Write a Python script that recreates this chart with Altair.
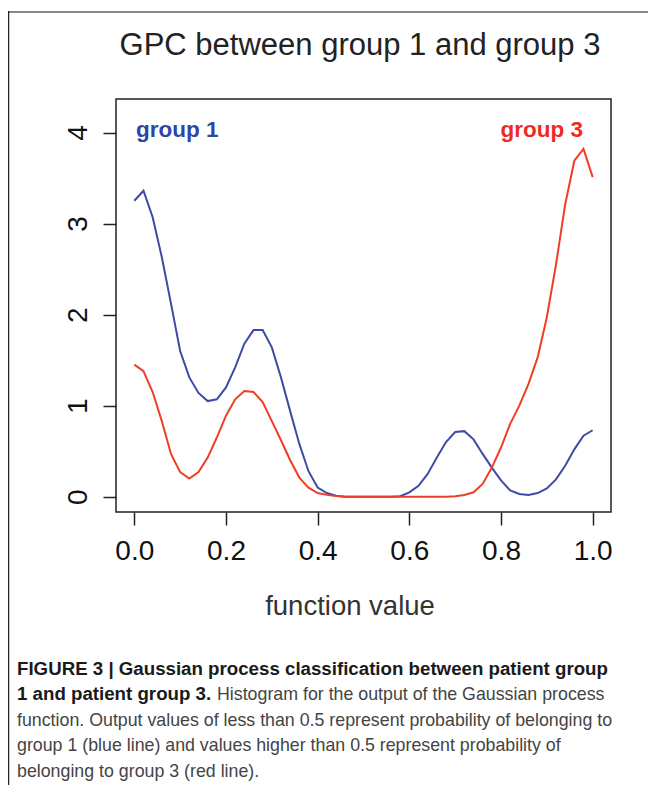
import altair as alt
import pandas as pd

# ---- data ----
x_vals = [round(i * 0.02, 2) for i in range(51)]
group1 = [3.25, 3.36, 3.07, 2.63, 2.12, 1.60, 1.31, 1.14, 1.05, 1.07,
          1.20, 1.42, 1.68, 1.83, 1.83, 1.64, 1.31, 0.94, 0.58, 0.28,
          0.10, 0.04, 0.01, 0.0, 0.0, 0.0, 0.0, 0.0, 0.0, 0.005,
          0.048, 0.12, 0.25, 0.43, 0.60, 0.71, 0.72, 0.63, 0.47, 0.32,
          0.18, 0.07, 0.03, 0.02, 0.04, 0.09, 0.19, 0.34, 0.52, 0.67, 0.73]
group3 = [1.45, 1.38, 1.15, 0.83, 0.47, 0.27, 0.20, 0.27, 0.43, 0.65,
          0.89, 1.07, 1.16, 1.15, 1.04, 0.83, 0.62, 0.40, 0.21, 0.10,
          0.04, 0.02, 0.007, 0.0, 0.0, 0.0, 0.0, 0.0, 0.0, 0.0,
          0.0, 0.0, 0.0, 0.0, 0.0, 0.004, 0.018, 0.048, 0.14, 0.32,
          0.54, 0.80, 1.00, 1.24, 1.53, 1.97, 2.55, 3.21, 3.69, 3.82, 3.51]
series_names = ["group 1", "group 3"]
series_colors = ["#3D4BA6", "#EF3E25"]
x_ticks = [0.0, 0.2, 0.4, 0.6, 0.8, 1.0]
y_ticks = [0, 1, 2, 3, 4]

title_text = ["GPC between group 1 and group 3"]
xlabel_text = ["function value"]
caption_bold_1 = ["FIGURE 3 | Gaussian process classification between patient group"]
caption_bold_2 = ["1 and patient group 3."]
caption_reg_2 = ["Histogram for the output of the Gaussian process"]
caption_reg_rest = [
    "function. Output values of less than 0.5 represent probability of belonging to",
    "group 1 (blue line) and values higher than 0.5 represent probability of",
    "belonging to group 3 (red line).",
]

rows = []
for name, vals in zip(series_names, [group1, group3]):
    for xv, yv in zip(x_vals, vals):
        rows.append({"x": xv, "y": yv, "series": name})
df = pd.DataFrame(rows)

FONT = "Liberation Sans"

lines = alt.Chart(df).mark_line(strokeWidth=2, clip=True).encode(
    x=alt.X("x:Q", scale=alt.Scale(domain=[-0.04, 1.04], nice=False, zero=False),
            axis=alt.Axis(values=x_ticks, format=".1f", title=None, grid=False, domain=False,
                          tickSize=13, tickColor="#222", tickWidth=1.5,
                          labelFontSize=28, labelFont=FONT, labelColor="#111",
                          labelPadding=12, labelBaseline="top")),
    y=alt.Y("y:Q", scale=alt.Scale(domain=[-0.168, 4.368], nice=False, zero=False),
            axis=alt.Axis(values=y_ticks, format="d", title=None, grid=False, domain=False,
                          tickSize=13, tickColor="#222", tickWidth=1.5,
                          labelFontSize=28, labelFont=FONT, labelColor="#111",
                          labelAngle=270, labelAlign="center", labelBaseline="alphabetic",
                          labelPadding=17)),
    color=alt.Color("series:N", scale=alt.Scale(domain=series_names, range=series_colors), legend=None),
    detail="series:N",
)


def text_layer(texts, x, y, size, color, weight="normal", align="left"):
    d = pd.DataFrame({"t": texts})
    return alt.Chart(d).mark_text(align=align, baseline="alphabetic", font=FONT,
                                  fontSize=size, fontWeight=weight, color=color).encode(
        x=alt.value(x), y=alt.value(y), text="t:N")


title = text_layer(title_text, 244, -44, 31, "#222", align="center")
xlabel = text_layer(xlabel_text, 234, 516, 27.5, "#333", align="center")
lab1 = text_layer([series_names[0]], 20, 38, 22.5, "#2E45A5", weight="bold")
lab3 = text_layer([series_names[1]], 467, 38, 22.5, "#EE2A24", weight="bold", align="right")

cap1 = text_layer(caption_bold_1, -99, 576, 18.7, "#1a1a1a", weight="bold")
cap2b = text_layer(caption_bold_2, -99, 601, 18.7, "#1a1a1a", weight="bold")
cap2r = text_layer(caption_reg_2, 101, 601, 17.8, "#444")
cap_rest = [text_layer([t], -99, 627 + 25.3 * i, 17.8, "#444") for i, t in enumerate(caption_reg_rest)]

# frame lines of the figure panel (top: gray, left: dark)
frame_df = pd.DataFrame({"fa": [0.0], "fb": [1.0]})
top_line = alt.Chart(frame_df).mark_rule(color="#888", strokeWidth=2).encode(
    x=alt.X("fa:Q", scale=alt.Scale(domain=[0, 1], range=[-108, 540], nice=False, zero=False), axis=None),
    x2="fb:Q",
    y=alt.value(-87),
)
left_rule = alt.Chart(pd.DataFrame({"a": [0]})).mark_rule(color="#222", strokeWidth=1.5).encode(
    x=alt.value(-107.5), y=alt.value(-88), y2=alt.value(700))

chart = alt.layer(
    top_line, left_rule, lines, title, xlabel, lab1, lab3, cap1, cap2b, cap2r, *cap_rest
).resolve_scale(x="independent").properties(
    width=495, height=413,
    autosize=alt.AutoSizeParams(type="none"),
    padding={"left": 108, "top": 91, "right": 37, "bottom": 273},
).configure(background="white").configure_view(stroke="#222", strokeWidth=1.5)

chart.save("out.html", embed_options={"renderer": "svg", "actions": False})
